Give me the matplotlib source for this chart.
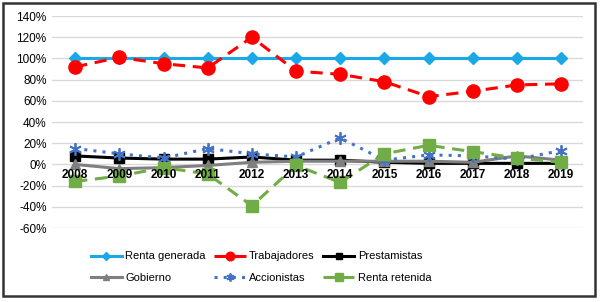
import numpy as np
from matplotlib import pyplot as plt
from matplotlib.patches import Rectangle

years = ['2008', '2009', '2010', '2011', '2012', '2013',
         '2014', '2015', '2016', '2017', '2018', '2019']
renta_generada = [100, 100, 100, 100, 100, 100, 100, 100, 100, 100, 100, 100]
trabajadores = [92, 101, 95, 91, 120, 88, 85, 78, 64, 69, 75, 76]
prestamistas = [8, 6, 5, 5, 7, 4, 4, 2, 1, 1, 1, 1]
gobierno = [0, -4, -3, -1, 2, 3, 3, 3, 3, 2, 8, 4]
accionistas = [15, 10, 6, 15, 10, 7, 25, 4, 9, 8, 5, 13]
renta_retenida = [-16, -11, -3, -9, -39, -1, -17, 10, 18, 12, 6, 2]

plt.rcParams['font.family'] = ['Liberation Sans Narrow', 'Liberation Sans', 'DejaVu Sans']

fig = plt.figure(figsize=(6, 3.02), dpi=100)
ax = fig.add_axes([0.087, 0.245, 0.885, 0.702])

x = np.arange(len(years))
h_rg, = ax.plot(x, renta_generada, color='#1BA8E6', lw=2.2, marker='D', ms=6.5, label='Renta generada', zorder=3)
h_tr, = ax.plot(x, trabajadores, color='#FF0000', lw=2.2, ls=(0, (4, 2.5)), marker='o', ms=9.5, label='Trabajadores', zorder=3)
h_pr, = ax.plot(x, prestamistas, color='#000000', lw=2.2, marker='s', ms=7, label='Prestamistas', zorder=3)
h_go, = ax.plot(x, gobierno, color='#7F7F7F', lw=2.2, marker='^', ms=7, label='Gobierno', zorder=3)
h_ac, = ax.plot(x, accionistas, color='#4472C4', lw=2.2, ls=(0, (1, 2)), marker=(6, 2, 0), ms=9, mew=1.3,
                label='Accionistas', zorder=3)
h_rr, = ax.plot(x, renta_retenida, color='#70AD47', lw=2.2, ls=(0, (4, 2.5)), marker='s', ms=9,
                label='Renta retenida', zorder=3)

ax.set_xlim(-0.52, len(years) - 0.5)
ax.set_ylim(-60, 140)
ax.set_yticks(np.arange(-60, 141, 20))
ax.set_yticklabels([f'{v}%' for v in range(-60, 141, 20)], fontsize=8.5)
ax.grid(axis='y', color='#D9D9D9', lw=1)
ax.set_axisbelow(True)
for s in ax.spines.values():
    s.set_visible(False)
ax.tick_params(length=0, pad=4)
ax.set_xticks([])
for i, yr in enumerate(years):
    ax.text(i, -4, yr, ha='center', va='top', fontsize=8.5, fontweight='bold', zorder=5)

# matplotlib fills legend columns first
handles = [h_rg, h_go, h_tr, h_ac, h_pr, h_rr]
fig.legend(handles=handles, labels=[h.get_label() for h in handles],
           loc='center', bbox_to_anchor=(0.435, 0.116), ncol=3, frameon=False,
           fontsize=8, handlelength=2.8, columnspacing=0.8, handletextpad=0.3,
           labelspacing=1.0, markerscale=0.65)

fig.add_artist(Rectangle((0.005, 0.02), 0.987, 0.97, transform=fig.transFigure,
                         fill=False, ec='#333333', lw=1.8))

fig.savefig('out.png', dpi=100)
